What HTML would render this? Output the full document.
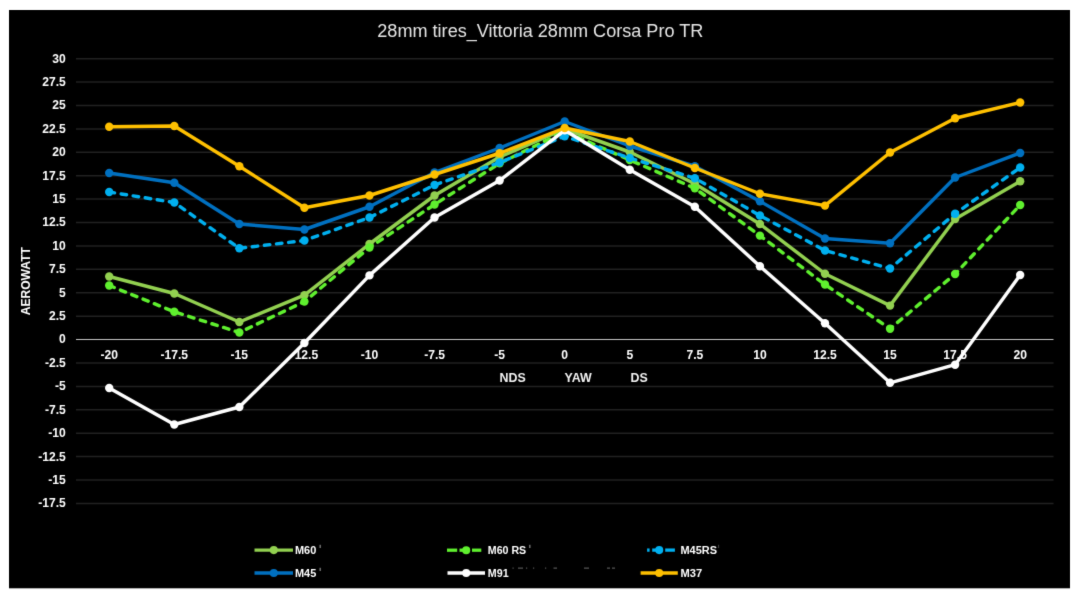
<!DOCTYPE html>
<html><head><meta charset="utf-8"><title>28mm tires_Vittoria 28mm Corsa Pro TR</title>
<style>
html,body{margin:0;padding:0;background:#fff;}
body{width:1080px;height:600px;overflow:hidden;}
svg{display:block;}
text{font-family:"Liberation Sans",Arial,sans-serif;}
.ax{font-weight:bold;font-size:12.1px;fill:#ffffff;}
.lg{font-weight:bold;font-size:11.8px;fill:#ffffff;}
</style></head><body>
<svg width="1080" height="600" viewBox="0 0 1080 600">
<defs><filter id="soft" color-interpolation-filters="sRGB" x="0" y="0" width="1080" height="600" filterUnits="userSpaceOnUse"><feConvolveMatrix order="3" kernelMatrix="0.01134 0.08382 0.01134 0.08382 0.61935 0.08382 0.01134 0.08382 0.01134" edgeMode="duplicate" preserveAlpha="true"/></filter></defs>
<g filter="url(#soft)">
<rect x="-20" y="-20" width="1120" height="640" fill="#ffffff"/>
<rect x="9" y="10" width="1061" height="578.3" fill="#000000"/>
<text x="540.3" y="37.2" text-anchor="middle" font-size="18.3" fill="#e6e6e6" textLength="326" lengthAdjust="spacingAndGlyphs">28mm tires_Vittoria 28mm Corsa Pro TR</text>
<line x1="76" y1="58.65" x2="1053.5" y2="58.65" stroke="#212121" stroke-width="1.5"/>
<text class="ax" x="65.8" y="62.55" text-anchor="end">30</text>
<line x1="76" y1="82.06" x2="1053.5" y2="82.06" stroke="#212121" stroke-width="1.5"/>
<text class="ax" x="65.8" y="85.96" text-anchor="end">27.5</text>
<line x1="76" y1="105.47" x2="1053.5" y2="105.47" stroke="#212121" stroke-width="1.5"/>
<text class="ax" x="65.8" y="109.37" text-anchor="end">25</text>
<line x1="76" y1="128.88" x2="1053.5" y2="128.88" stroke="#212121" stroke-width="1.5"/>
<text class="ax" x="65.8" y="132.78" text-anchor="end">22.5</text>
<line x1="76" y1="152.29" x2="1053.5" y2="152.29" stroke="#212121" stroke-width="1.5"/>
<text class="ax" x="65.8" y="156.19" text-anchor="end">20</text>
<line x1="76" y1="175.70" x2="1053.5" y2="175.70" stroke="#212121" stroke-width="1.5"/>
<text class="ax" x="65.8" y="179.60" text-anchor="end">17.5</text>
<line x1="76" y1="199.11" x2="1053.5" y2="199.11" stroke="#212121" stroke-width="1.5"/>
<text class="ax" x="65.8" y="203.01" text-anchor="end">15</text>
<line x1="76" y1="222.52" x2="1053.5" y2="222.52" stroke="#212121" stroke-width="1.5"/>
<text class="ax" x="65.8" y="226.42" text-anchor="end">12.5</text>
<line x1="76" y1="245.93" x2="1053.5" y2="245.93" stroke="#212121" stroke-width="1.5"/>
<text class="ax" x="65.8" y="249.83" text-anchor="end">10</text>
<line x1="76" y1="269.34" x2="1053.5" y2="269.34" stroke="#212121" stroke-width="1.5"/>
<text class="ax" x="65.8" y="273.24" text-anchor="end">7.5</text>
<line x1="76" y1="292.75" x2="1053.5" y2="292.75" stroke="#212121" stroke-width="1.5"/>
<text class="ax" x="65.8" y="296.65" text-anchor="end">5</text>
<line x1="76" y1="316.16" x2="1053.5" y2="316.16" stroke="#212121" stroke-width="1.5"/>
<text class="ax" x="65.8" y="320.06" text-anchor="end">2.5</text>
<line x1="76" y1="339.50" x2="1053.5" y2="339.50" stroke="#c4c4c4" stroke-width="1.0"/>
<text class="ax" x="65.8" y="343.40" text-anchor="end">0</text>
<line x1="76" y1="362.98" x2="1053.5" y2="362.98" stroke="#212121" stroke-width="1.5"/>
<text class="ax" x="65.8" y="366.88" text-anchor="end">-2.5</text>
<line x1="76" y1="386.39" x2="1053.5" y2="386.39" stroke="#212121" stroke-width="1.5"/>
<text class="ax" x="65.8" y="390.29" text-anchor="end">-5</text>
<line x1="76" y1="409.80" x2="1053.5" y2="409.80" stroke="#212121" stroke-width="1.5"/>
<text class="ax" x="65.8" y="413.70" text-anchor="end">-7.5</text>
<line x1="76" y1="433.21" x2="1053.5" y2="433.21" stroke="#212121" stroke-width="1.5"/>
<text class="ax" x="65.8" y="437.11" text-anchor="end">-10</text>
<line x1="76" y1="456.62" x2="1053.5" y2="456.62" stroke="#212121" stroke-width="1.5"/>
<text class="ax" x="65.8" y="460.52" text-anchor="end">-12.5</text>
<line x1="76" y1="480.03" x2="1053.5" y2="480.03" stroke="#212121" stroke-width="1.5"/>
<text class="ax" x="65.8" y="483.93" text-anchor="end">-15</text>
<line x1="76" y1="503.44" x2="1053.5" y2="503.44" stroke="#212121" stroke-width="1.5"/>
<text class="ax" x="65.8" y="507.34" text-anchor="end">-17.5</text>
<text class="ax" x="109.20" y="359.2" text-anchor="middle">-20</text>
<text class="ax" x="174.27" y="359.2" text-anchor="middle">-17.5</text>
<text class="ax" x="239.34" y="359.2" text-anchor="middle">-15</text>
<text class="ax" x="304.41" y="359.2" text-anchor="middle">-12.5</text>
<text class="ax" x="369.48" y="359.2" text-anchor="middle">-10</text>
<text class="ax" x="434.55" y="359.2" text-anchor="middle">-7.5</text>
<text class="ax" x="499.62" y="359.2" text-anchor="middle">-5</text>
<text class="ax" x="564.69" y="359.2" text-anchor="middle">0</text>
<text class="ax" x="629.76" y="359.2" text-anchor="middle">5</text>
<text class="ax" x="694.83" y="359.2" text-anchor="middle">7.5</text>
<text class="ax" x="759.90" y="359.2" text-anchor="middle">10</text>
<text class="ax" x="824.97" y="359.2" text-anchor="middle">12.5</text>
<text class="ax" x="890.04" y="359.2" text-anchor="middle">15</text>
<text class="ax" x="955.11" y="359.2" text-anchor="middle">17.5</text>
<text class="ax" x="1020.18" y="359.2" text-anchor="middle">20</text>
<text x="499.5" y="382" font-weight="bold" font-size="12.4" fill="#f2f2f2">NDS</text>
<text x="564.5" y="382" font-weight="bold" font-size="12.4" fill="#f2f2f2">YAW</text>
<text x="630.5" y="382" font-weight="bold" font-size="12.4" fill="#f2f2f2">DS</text>
<text class="ax" transform="translate(30.3,281.2) rotate(-90)" text-anchor="middle">AEROWATT</text>
<polyline points="109.20,276.50 174.27,293.50 239.34,322.00 304.41,295.20 369.48,244.00 434.55,195.50 499.62,157.00 564.69,129.00 629.76,152.00 694.83,183.75 759.90,224.00 824.97,273.75 890.04,305.60 955.11,219.00 1020.18,181.25" fill="none" stroke="#92d050" stroke-width="3.45" stroke-linejoin="round" stroke-linecap="butt"/>
<circle cx="109.20" cy="276.50" r="4.2" fill="#92d050"/>
<circle cx="174.27" cy="293.50" r="4.2" fill="#92d050"/>
<circle cx="239.34" cy="322.00" r="4.2" fill="#92d050"/>
<circle cx="304.41" cy="295.20" r="4.2" fill="#92d050"/>
<circle cx="369.48" cy="244.00" r="4.2" fill="#92d050"/>
<circle cx="434.55" cy="195.50" r="4.2" fill="#92d050"/>
<circle cx="499.62" cy="157.00" r="4.2" fill="#92d050"/>
<circle cx="564.69" cy="129.00" r="4.2" fill="#92d050"/>
<circle cx="629.76" cy="152.00" r="4.2" fill="#92d050"/>
<circle cx="694.83" cy="183.75" r="4.2" fill="#92d050"/>
<circle cx="759.90" cy="224.00" r="4.2" fill="#92d050"/>
<circle cx="824.97" cy="273.75" r="4.2" fill="#92d050"/>
<circle cx="890.04" cy="305.60" r="4.2" fill="#92d050"/>
<circle cx="955.11" cy="219.00" r="4.2" fill="#92d050"/>
<circle cx="1020.18" cy="181.25" r="4.2" fill="#92d050"/>
<polyline points="109.20,285.50 174.27,311.75 239.34,332.50 304.41,301.60 369.48,247.50 434.55,204.50 499.62,163.30 564.69,131.50 629.76,160.00 694.83,188.25 759.90,235.60 824.97,284.50 890.04,328.75 955.11,274.00 1020.18,205.00" fill="none" stroke="#5ff02e" stroke-width="3.45" stroke-linejoin="round" stroke-linecap="round" stroke-dasharray="5.5 6.7" stroke-dashoffset="0.1"/>
<circle cx="109.20" cy="285.50" r="4.2" fill="#5ff02e"/>
<circle cx="174.27" cy="311.75" r="4.2" fill="#5ff02e"/>
<circle cx="239.34" cy="332.50" r="4.2" fill="#5ff02e"/>
<circle cx="304.41" cy="301.60" r="4.2" fill="#5ff02e"/>
<circle cx="369.48" cy="247.50" r="4.2" fill="#5ff02e"/>
<circle cx="434.55" cy="204.50" r="4.2" fill="#5ff02e"/>
<circle cx="499.62" cy="163.30" r="4.2" fill="#5ff02e"/>
<circle cx="564.69" cy="131.50" r="4.2" fill="#5ff02e"/>
<circle cx="629.76" cy="160.00" r="4.2" fill="#5ff02e"/>
<circle cx="694.83" cy="188.25" r="4.2" fill="#5ff02e"/>
<circle cx="759.90" cy="235.60" r="4.2" fill="#5ff02e"/>
<circle cx="824.97" cy="284.50" r="4.2" fill="#5ff02e"/>
<circle cx="890.04" cy="328.75" r="4.2" fill="#5ff02e"/>
<circle cx="955.11" cy="274.00" r="4.2" fill="#5ff02e"/>
<circle cx="1020.18" cy="205.00" r="4.2" fill="#5ff02e"/>
<polyline points="109.20,192.00 174.27,202.50 239.34,248.30 304.41,240.50 369.48,217.50 434.55,185.00 499.62,162.50 564.69,136.30 629.76,158.00 694.83,178.25 759.90,215.50 824.97,250.50 890.04,268.50 955.11,213.75 1020.18,167.50" fill="none" stroke="#00b0f0" stroke-width="3.45" stroke-linejoin="round" stroke-linecap="round" stroke-dasharray="5.5 6.7" stroke-dashoffset="0.1"/>
<circle cx="109.20" cy="192.00" r="4.2" fill="#00b0f0"/>
<circle cx="174.27" cy="202.50" r="4.2" fill="#00b0f0"/>
<circle cx="239.34" cy="248.30" r="4.2" fill="#00b0f0"/>
<circle cx="304.41" cy="240.50" r="4.2" fill="#00b0f0"/>
<circle cx="369.48" cy="217.50" r="4.2" fill="#00b0f0"/>
<circle cx="434.55" cy="185.00" r="4.2" fill="#00b0f0"/>
<circle cx="499.62" cy="162.50" r="4.2" fill="#00b0f0"/>
<circle cx="564.69" cy="136.30" r="4.2" fill="#00b0f0"/>
<circle cx="629.76" cy="158.00" r="4.2" fill="#00b0f0"/>
<circle cx="694.83" cy="178.25" r="4.2" fill="#00b0f0"/>
<circle cx="759.90" cy="215.50" r="4.2" fill="#00b0f0"/>
<circle cx="824.97" cy="250.50" r="4.2" fill="#00b0f0"/>
<circle cx="890.04" cy="268.50" r="4.2" fill="#00b0f0"/>
<circle cx="955.11" cy="213.75" r="4.2" fill="#00b0f0"/>
<circle cx="1020.18" cy="167.50" r="4.2" fill="#00b0f0"/>
<polyline points="109.20,173.00 174.27,182.75 239.34,224.00 304.41,229.50 369.48,206.75 434.55,172.50 499.62,148.00 564.69,121.50 629.76,146.00 694.83,166.25 759.90,201.25 824.97,238.50 890.04,243.20 955.11,177.50 1020.18,153.00" fill="none" stroke="#0070c0" stroke-width="3.45" stroke-linejoin="round" stroke-linecap="butt"/>
<circle cx="109.20" cy="173.00" r="4.2" fill="#0070c0"/>
<circle cx="174.27" cy="182.75" r="4.2" fill="#0070c0"/>
<circle cx="239.34" cy="224.00" r="4.2" fill="#0070c0"/>
<circle cx="304.41" cy="229.50" r="4.2" fill="#0070c0"/>
<circle cx="369.48" cy="206.75" r="4.2" fill="#0070c0"/>
<circle cx="434.55" cy="172.50" r="4.2" fill="#0070c0"/>
<circle cx="499.62" cy="148.00" r="4.2" fill="#0070c0"/>
<circle cx="564.69" cy="121.50" r="4.2" fill="#0070c0"/>
<circle cx="629.76" cy="146.00" r="4.2" fill="#0070c0"/>
<circle cx="694.83" cy="166.25" r="4.2" fill="#0070c0"/>
<circle cx="759.90" cy="201.25" r="4.2" fill="#0070c0"/>
<circle cx="824.97" cy="238.50" r="4.2" fill="#0070c0"/>
<circle cx="890.04" cy="243.20" r="4.2" fill="#0070c0"/>
<circle cx="955.11" cy="177.50" r="4.2" fill="#0070c0"/>
<circle cx="1020.18" cy="153.00" r="4.2" fill="#0070c0"/>
<polyline points="109.20,388.00 174.27,424.50 239.34,407.00 304.41,343.00 369.48,275.40 434.55,217.50 499.62,180.50 564.69,130.30 629.76,169.80 694.83,206.75 759.90,266.25 824.97,323.30 890.04,382.80 955.11,364.70 1020.18,275.00" fill="none" stroke="#ffffff" stroke-width="3.45" stroke-linejoin="round" stroke-linecap="butt"/>
<circle cx="109.20" cy="388.00" r="4.2" fill="#ffffff"/>
<circle cx="174.27" cy="424.50" r="4.2" fill="#ffffff"/>
<circle cx="239.34" cy="407.00" r="4.2" fill="#ffffff"/>
<circle cx="304.41" cy="343.00" r="4.2" fill="#ffffff"/>
<circle cx="369.48" cy="275.40" r="4.2" fill="#ffffff"/>
<circle cx="434.55" cy="217.50" r="4.2" fill="#ffffff"/>
<circle cx="499.62" cy="180.50" r="4.2" fill="#ffffff"/>
<circle cx="564.69" cy="130.30" r="4.2" fill="#ffffff"/>
<circle cx="629.76" cy="169.80" r="4.2" fill="#ffffff"/>
<circle cx="694.83" cy="206.75" r="4.2" fill="#ffffff"/>
<circle cx="759.90" cy="266.25" r="4.2" fill="#ffffff"/>
<circle cx="824.97" cy="323.30" r="4.2" fill="#ffffff"/>
<circle cx="890.04" cy="382.80" r="4.2" fill="#ffffff"/>
<circle cx="955.11" cy="364.70" r="4.2" fill="#ffffff"/>
<circle cx="1020.18" cy="275.00" r="4.2" fill="#ffffff"/>
<polyline points="109.20,126.75 174.27,126.00 239.34,166.25 304.41,207.75 369.48,195.50 434.55,174.50 499.62,153.25 564.69,128.00 629.76,141.50 694.83,168.00 759.90,193.75 824.97,205.60 890.04,152.50 955.11,118.25 1020.18,102.50" fill="none" stroke="#ffc000" stroke-width="3.45" stroke-linejoin="round" stroke-linecap="butt"/>
<circle cx="109.20" cy="126.75" r="4.2" fill="#ffc000"/>
<circle cx="174.27" cy="126.00" r="4.2" fill="#ffc000"/>
<circle cx="239.34" cy="166.25" r="4.2" fill="#ffc000"/>
<circle cx="304.41" cy="207.75" r="4.2" fill="#ffc000"/>
<circle cx="369.48" cy="195.50" r="4.2" fill="#ffc000"/>
<circle cx="434.55" cy="174.50" r="4.2" fill="#ffc000"/>
<circle cx="499.62" cy="153.25" r="4.2" fill="#ffc000"/>
<circle cx="564.69" cy="128.00" r="4.2" fill="#ffc000"/>
<circle cx="629.76" cy="141.50" r="4.2" fill="#ffc000"/>
<circle cx="694.83" cy="168.00" r="4.2" fill="#ffc000"/>
<circle cx="759.90" cy="193.75" r="4.2" fill="#ffc000"/>
<circle cx="824.97" cy="205.60" r="4.2" fill="#ffc000"/>
<circle cx="890.04" cy="152.50" r="4.2" fill="#ffc000"/>
<circle cx="955.11" cy="118.25" r="4.2" fill="#ffc000"/>
<circle cx="1020.18" cy="102.50" r="4.2" fill="#ffc000"/>
<line x1="254.5" y1="550.1" x2="293" y2="550.1" stroke="#92d050" stroke-width="3.3"/>
<circle cx="273.8" cy="550.1" r="4.05" fill="#92d050"/>
<text class="lg" x="295" y="554.0" textLength="21.3" lengthAdjust="spacingAndGlyphs">M60</text>
<line x1="447" y1="550.2" x2="457.2" y2="550.2" stroke="#5ff02e" stroke-width="3.3"/>
<line x1="459.5" y1="550.2" x2="470" y2="550.2" stroke="#5ff02e" stroke-width="3.3"/>
<line x1="472" y1="550.2" x2="481.3" y2="550.2" stroke="#5ff02e" stroke-width="3.3"/>
<circle cx="466.2" cy="550.2" r="4.05" fill="#5ff02e"/>
<text class="lg" x="487.8" y="554.1" textLength="38.4" lengthAdjust="spacingAndGlyphs">M60 RS</text>
<line x1="647.1" y1="550.1" x2="649.6" y2="550.1" stroke="#00b0f0" stroke-width="3.3"/>
<line x1="652.2" y1="550.1" x2="660" y2="550.1" stroke="#00b0f0" stroke-width="3.3"/>
<line x1="665.2" y1="550.1" x2="674.9" y2="550.1" stroke="#00b0f0" stroke-width="3.3"/>
<circle cx="659.2" cy="550.1" r="4.05" fill="#00b0f0"/>
<text class="lg" x="680.5" y="554.0" textLength="36.5" lengthAdjust="spacingAndGlyphs">M45RS</text>
<line x1="254.5" y1="573" x2="293" y2="573" stroke="#0070c0" stroke-width="3.3"/>
<circle cx="273.8" cy="573" r="4.05" fill="#0070c0"/>
<text class="lg" x="295" y="576.9" textLength="21.3" lengthAdjust="spacingAndGlyphs">M45</text>
<line x1="447.5" y1="573" x2="485" y2="573" stroke="#ffffff" stroke-width="3.3"/>
<circle cx="466.2" cy="573" r="4.05" fill="#ffffff"/>
<text class="lg" x="487.8" y="576.9" textLength="20.8" lengthAdjust="spacingAndGlyphs">M91</text>
<line x1="640.6" y1="573" x2="677.8" y2="573" stroke="#ffc000" stroke-width="3.3"/>
<circle cx="659.2" cy="573" r="4.05" fill="#ffc000"/>
<text class="lg" x="680.5" y="576.9" textLength="21.7" lengthAdjust="spacingAndGlyphs">M37</text>
<rect x="319.6" y="544.8" width="1.1" height="3.2" fill="#9a9a9a"/>
<rect x="319.6" y="567.8" width="1.1" height="3.2" fill="#9a9a9a"/>
<rect x="529.3" y="544.8" width="1.1" height="3.2" fill="#9a9a9a"/>
<rect x="718.0" y="544.8" width="1.1" height="3.2" fill="#3c3c3c"/>
<rect x="512.5" y="567.6" width="1.2" height="1" fill="#6a6a6a"/>
<rect x="518" y="567.6" width="5" height="1" fill="#6a6a6a"/>
<rect x="526" y="567.6" width="1.2" height="1" fill="#6a6a6a"/>
<rect x="533" y="567.6" width="1.2" height="1" fill="#6a6a6a"/>
<rect x="545" y="567.6" width="1.2" height="1" fill="#6a6a6a"/>
<rect x="553.5" y="567.6" width="3.5" height="1" fill="#6a6a6a"/>
<rect x="584" y="567.6" width="5" height="1" fill="#6a6a6a"/>
<rect x="607" y="567.6" width="3" height="1" fill="#6a6a6a"/>
<rect x="612" y="567.6" width="3" height="1" fill="#6a6a6a"/>
</g></svg></body></html>
